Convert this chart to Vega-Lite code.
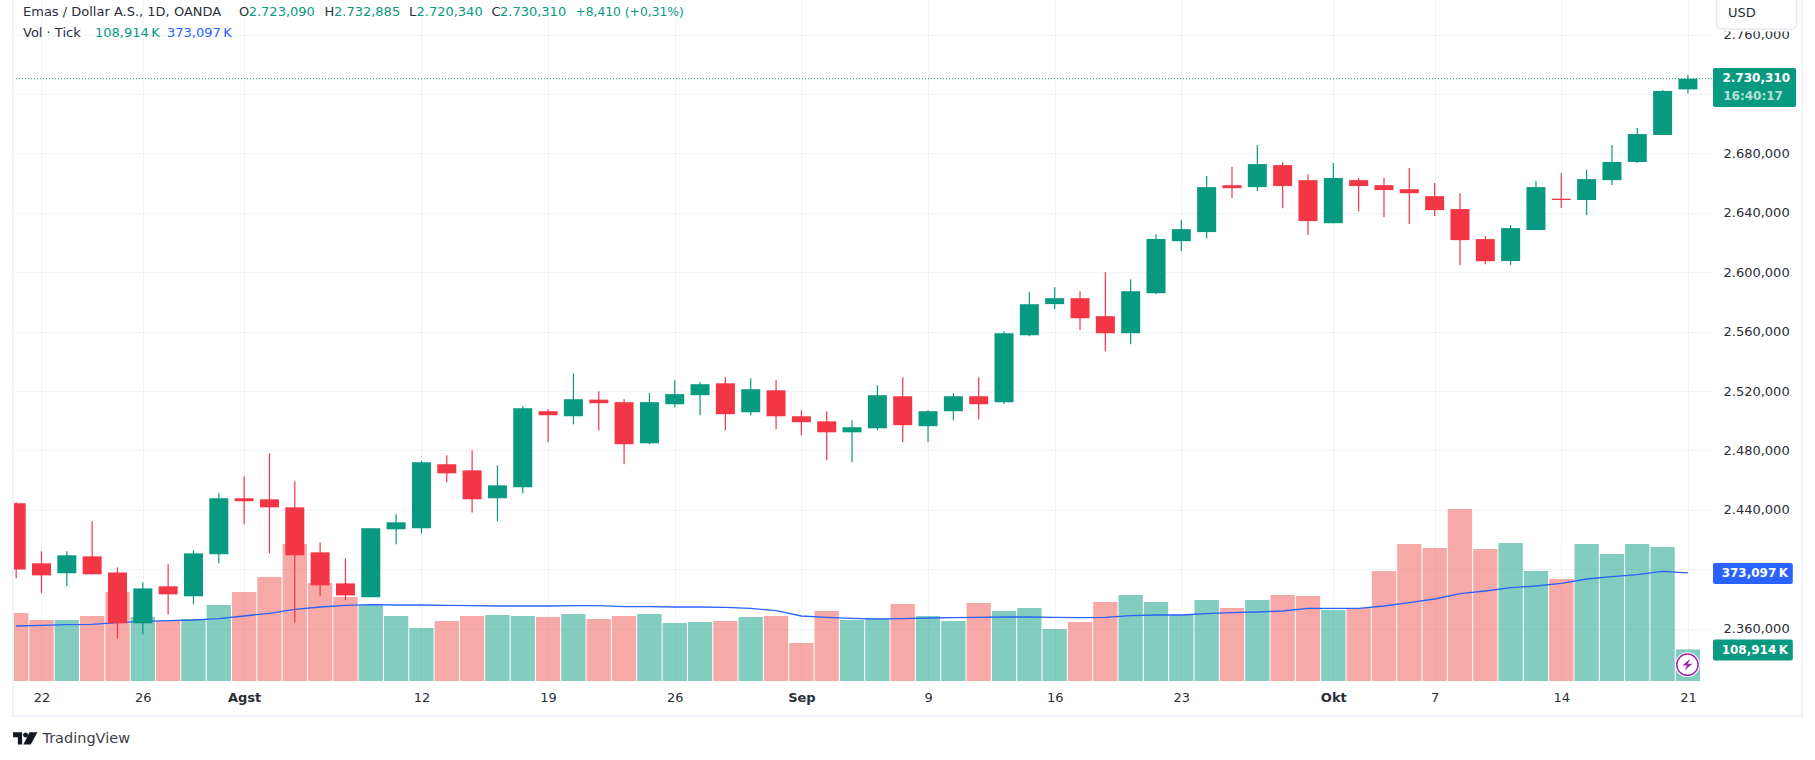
{
  "$schema": "https://vega.github.io/schema/vega-lite/v6.json",
  "width": 1699,
  "height": 681,
  "autosize": {"type": "none"},
  "padding": {"left": 13, "top": 0, "right": 103, "bottom": 79},
  "background": "#ffffff",
  "config": {
    "view": {"stroke": null},
    "font": "DejaVu Sans",
    "text": {"fontSize": 13, "baseline": "middle"}
  },
  "data": {"values": [
    {"i": -1, "dir": "down", "open": 2444.4, "high": 2445.1, "low": 2393.9, "close": 2399.9, "vol": 234.6, "ma": 189.8},
    {"i": 0, "dir": "down", "open": 2404.0, "high": 2412.1, "low": 2383.8, "close": 2395.9, "vol": 210.5, "ma": 192},
    {"i": 1, "dir": "up", "open": 2397.3, "high": 2412.1, "low": 2388.5, "close": 2409.4, "vol": 210.5, "ma": 194.4},
    {"i": 2, "dir": "down", "open": 2408.7, "high": 2432.3, "low": 2396.6, "close": 2396.6, "vol": 224.3, "ma": 195.5},
    {"i": 3, "dir": "down", "open": 2397.9, "high": 2401.3, "low": 2353.5, "close": 2363.6, "vol": 307, "ma": 201.3},
    {"i": 4, "dir": "up", "open": 2363.6, "high": 2391.2, "low": 2356.2, "close": 2387.1, "vol": 220.8, "ma": 205.9},
    {"i": 5, "dir": "down", "open": 2388.5, "high": 2403.3, "low": 2369.6, "close": 2383.1, "vol": 207, "ma": 208.2},
    {"i": 6, "dir": "up", "open": 2381.8, "high": 2412.7, "low": 2376.4, "close": 2410.7, "vol": 213.9, "ma": 210.5},
    {"i": 7, "dir": "up", "open": 2410.1, "high": 2451.1, "low": 2404.0, "close": 2447.8, "vol": 262.2, "ma": 215},
    {"i": 8, "dir": "down", "open": 2447.8, "high": 2462.6, "low": 2430.3, "close": 2445.8, "vol": 307, "ma": 224.3},
    {"i": 9, "dir": "down", "open": 2447.1, "high": 2478.1, "low": 2410.7, "close": 2441.7, "vol": 358.8, "ma": 233.5},
    {"i": 10, "dir": "down", "open": 2441.7, "high": 2459.2, "low": 2364.2, "close": 2409.4, "vol": 472.7, "ma": 247.3},
    {"i": 11, "dir": "down", "open": 2411.4, "high": 2418.1, "low": 2381.8, "close": 2389.2, "vol": 338.1, "ma": 255.3},
    {"i": 12, "dir": "down", "open": 2390.5, "high": 2407.4, "low": 2379.1, "close": 2382.4, "vol": 289.8, "ma": 261},
    {"i": 13, "dir": "up", "open": 2381.1, "high": 2427.6, "low": 2381.1, "close": 2427.6, "vol": 262.2, "ma": 263.4},
    {"i": 14, "dir": "up", "open": 2426.9, "high": 2437.0, "low": 2416.8, "close": 2431.6, "vol": 224.3, "ma": 262.2},
    {"i": 15, "dir": "up", "open": 2427.6, "high": 2473.2, "low": 2424.2, "close": 2472.0, "vol": 182.9, "ma": 262.2},
    {"i": 16, "dir": "down", "open": 2470.7, "high": 2476.7, "low": 2458.6, "close": 2464.6, "vol": 207, "ma": 261},
    {"i": 17, "dir": "down", "open": 2466.6, "high": 2480.1, "low": 2438.3, "close": 2447.1, "vol": 224.3, "ma": 259.9},
    {"i": 18, "dir": "up", "open": 2447.8, "high": 2470.0, "low": 2432.3, "close": 2456.5, "vol": 227.7, "ma": 258.8},
    {"i": 19, "dir": "up", "open": 2455.2, "high": 2509.8, "low": 2451.1, "close": 2508.4, "vol": 224.3, "ma": 258.8},
    {"i": 20, "dir": "down", "open": 2506.4, "high": 2507.7, "low": 2485.5, "close": 2503.7, "vol": 220.8, "ma": 258.8},
    {"i": 21, "dir": "up", "open": 2503.0, "high": 2531.8, "low": 2497.6, "close": 2514.5, "vol": 231.2, "ma": 259.9},
    {"i": 22, "dir": "down", "open": 2514.2, "high": 2519.9, "low": 2493.6, "close": 2511.8, "vol": 213.9, "ma": 259.9},
    {"i": 23, "dir": "down", "open": 2512.5, "high": 2514.5, "low": 2470.7, "close": 2484.2, "vol": 224.3, "ma": 256.5},
    {"i": 24, "dir": "up", "open": 2484.8, "high": 2518.7, "low": 2484.2, "close": 2512.5, "vol": 231.2, "ma": 256.5},
    {"i": 25, "dir": "up", "open": 2511.1, "high": 2527.3, "low": 2509.1, "close": 2517.9, "vol": 200.1, "ma": 255.3},
    {"i": 26, "dir": "up", "open": 2517.2, "high": 2525.9, "low": 2503.7, "close": 2524.6, "vol": 203.6, "ma": 255.3},
    {"i": 27, "dir": "down", "open": 2525.2, "high": 2529.3, "low": 2493.6, "close": 2504.4, "vol": 207, "ma": 254.2},
    {"i": 28, "dir": "up", "open": 2505.7, "high": 2528.6, "low": 2503.7, "close": 2521.2, "vol": 220.8, "ma": 250.7},
    {"i": 29, "dir": "down", "open": 2520.5, "high": 2527.3, "low": 2494.3, "close": 2503.0, "vol": 224.3, "ma": 242.7},
    {"i": 30, "dir": "down", "open": 2503.0, "high": 2507.1, "low": 2490.2, "close": 2499.0, "vol": 131.1, "ma": 224.3},
    {"i": 31, "dir": "down", "open": 2499.6, "high": 2506.4, "low": 2473.4, "close": 2492.2, "vol": 241.5, "ma": 219.7},
    {"i": 32, "dir": "up", "open": 2492.2, "high": 2500.3, "low": 2472.0, "close": 2495.6, "vol": 210.5, "ma": 216.2},
    {"i": 33, "dir": "up", "open": 2494.9, "high": 2523.9, "low": 2493.6, "close": 2517.2, "vol": 213.9, "ma": 213.9},
    {"i": 34, "dir": "down", "open": 2516.5, "high": 2529.3, "low": 2485.5, "close": 2497.0, "vol": 265.7, "ma": 215},
    {"i": 35, "dir": "up", "open": 2496.3, "high": 2507.1, "low": 2485.5, "close": 2506.4, "vol": 224.3, "ma": 217.4},
    {"i": 36, "dir": "up", "open": 2506.4, "high": 2518.5, "low": 2500.3, "close": 2516.5, "vol": 207, "ma": 218.5},
    {"i": 37, "dir": "down", "open": 2516.5, "high": 2529.3, "low": 2501.0, "close": 2511.1, "vol": 269.1, "ma": 219.7},
    {"i": 38, "dir": "up", "open": 2512.4, "high": 2560.3, "low": 2511.1, "close": 2558.9, "vol": 241.5, "ma": 220.8},
    {"i": 39, "dir": "up", "open": 2557.6, "high": 2586.6, "low": 2556.9, "close": 2578.5, "vol": 251.9, "ma": 220.8},
    {"i": 40, "dir": "up", "open": 2578.5, "high": 2589.9, "low": 2575.1, "close": 2582.5, "vol": 179.4, "ma": 219.7},
    {"i": 41, "dir": "down", "open": 2582.5, "high": 2587.2, "low": 2561.0, "close": 2569.0, "vol": 203.6, "ma": 218.5},
    {"i": 42, "dir": "down", "open": 2570.4, "high": 2600.0, "low": 2546.8, "close": 2558.9, "vol": 272.6, "ma": 219.7},
    {"i": 43, "dir": "up", "open": 2558.9, "high": 2595.3, "low": 2551.5, "close": 2587.2, "vol": 296.7, "ma": 225.4},
    {"i": 44, "dir": "up", "open": 2585.9, "high": 2625.6, "low": 2585.2, "close": 2622.3, "vol": 272.6, "ma": 227.7},
    {"i": 45, "dir": "up", "open": 2620.9, "high": 2635.1, "low": 2614.2, "close": 2629.0, "vol": 227.7, "ma": 227.7},
    {"i": 46, "dir": "up", "open": 2627.0, "high": 2664.7, "low": 2622.9, "close": 2657.3, "vol": 279.5, "ma": 232.3},
    {"i": 47, "dir": "down", "open": 2658.6, "high": 2670.8, "low": 2649.9, "close": 2656.6, "vol": 251.9, "ma": 235.8},
    {"i": 48, "dir": "up", "open": 2657.3, "high": 2685.6, "low": 2654.6, "close": 2672.8, "vol": 279.5, "ma": 238},
    {"i": 49, "dir": "down", "open": 2672.1, "high": 2674.1, "low": 2643.1, "close": 2658.0, "vol": 296.7, "ma": 241.5},
    {"i": 50, "dir": "down", "open": 2662.0, "high": 2666.0, "low": 2625.0, "close": 2634.4, "vol": 293.3, "ma": 250.7},
    {"i": 51, "dir": "up", "open": 2633.0, "high": 2673.5, "low": 2633.0, "close": 2663.4, "vol": 245, "ma": 250.7},
    {"i": 52, "dir": "down", "open": 2662.0, "high": 2663.4, "low": 2641.1, "close": 2658.0, "vol": 251.9, "ma": 250.7},
    {"i": 53, "dir": "down", "open": 2658.6, "high": 2663.4, "low": 2637.1, "close": 2655.3, "vol": 379.5, "ma": 258.8},
    {"i": 54, "dir": "down", "open": 2655.9, "high": 2670.1, "low": 2632.4, "close": 2653.2, "vol": 472.7, "ma": 270.3},
    {"i": 55, "dir": "down", "open": 2651.2, "high": 2660.0, "low": 2637.8, "close": 2641.8, "vol": 458.9, "ma": 282.9},
    {"i": 56, "dir": "down", "open": 2642.5, "high": 2653.2, "low": 2604.7, "close": 2621.6, "vol": 593.4, "ma": 301.3},
    {"i": 57, "dir": "down", "open": 2622.3, "high": 2624.3, "low": 2605.4, "close": 2607.4, "vol": 455.4, "ma": 310.5},
    {"i": 58, "dir": "up", "open": 2607.5, "high": 2631.7, "low": 2604.8, "close": 2629.7, "vol": 476.1, "ma": 322},
    {"i": 59, "dir": "up", "open": 2628.4, "high": 2661.4, "low": 2628.4, "close": 2657.3, "vol": 379.5, "ma": 327.8},
    {"i": 60, "dir": "down", "open": 2649.5, "high": 2666.8, "low": 2643.2, "close": 2648.6, "vol": 351.9, "ma": 337},
    {"i": 61, "dir": "up", "open": 2648.6, "high": 2668.8, "low": 2638.5, "close": 2662.7, "vol": 472.7, "ma": 351.9},
    {"i": 62, "dir": "up", "open": 2662.0, "high": 2685.6, "low": 2658.7, "close": 2674.2, "vol": 438.2, "ma": 360},
    {"i": 63, "dir": "up", "open": 2674.2, "high": 2697.1, "low": 2673.5, "close": 2693.0, "vol": 472.7, "ma": 366.9},
    {"i": 64, "dir": "up", "open": 2692.4, "high": 2722.7, "low": 2692.4, "close": 2722.0, "vol": 462.3, "ma": 378.4},
    {"i": 65, "dir": "up", "open": 2723.09, "high": 2732.885, "low": 2720.34, "close": 2730.31, "vol": 108.914, "ma": 373.097}
  ]},
  "encoding": {
    "x": {
      "field": "i",
      "type": "quantitative",
      "scale": {"domain": [-1.125, 65.95], "nice": false, "zero": false, "padding": 0},
      "axis": {
        "title": null,
        "values": [0, 4, 8, 15, 20, 25, 30, 35, 40, 45, 51, 55, 60, 65],
        "labelExpr": "datum.value==0?'22':datum.value==4?'26':datum.value==8?'Agst':datum.value==15?'12':datum.value==20?'19':datum.value==25?'26':datum.value==30?'Sep':datum.value==35?'9':datum.value==40?'16':datum.value==45?'23':datum.value==51?'Okt':datum.value==55?'7':datum.value==60?'14':'21'",
        "labelFontWeight": {"condition": {"test": "datum.value==8||datum.value==30||datum.value==51", "value": "bold"}, "value": "normal"},
        "labelFontSize": 13,
        "labelColor": "#2a2e39",
        "labelPadding": 10,
        "labelFlush": false,
        "labelOverlap": false,
        "domain": false,
        "ticks": false,
        "grid": true,
        "gridColor": "#f0f3fa"
      }
    }
  },
  "layer": [
    {
      "encoding": {
        "y": {
          "field": "vol",
          "type": "quantitative",
          "scale": {"domain": [0, 2349.5], "nice": false},
          "axis": {"title": null, "labels": false, "domain": false, "ticks": false, "grid": false, "orient": "left"}
        }
      },
      "layer": [
        {
          "mark": {"type": "bar", "orient": "vertical", "size": 24.3, "opacity": 0.5, "clip": true},
          "encoding": {
            "color": {"condition": {"test": "datum.dir=='up'", "value": "#089981"}, "value": "#ef5350"}
          }
        },
        {
          "mark": {"type": "line", "color": "#2962ff", "strokeWidth": 1.3, "clip": true},
          "encoding": {"y": {"field": "ma", "type": "quantitative"}}
        }
      ]
    },
    {
      "encoding": {
        "y": {
          "field": "low",
          "type": "quantitative",
          "scale": {"domain": [2324.77, 2783.27], "nice": false, "zero": false},
          "axis": {
            "title": null,
            "orient": "right",
            "values": [2360, 2400, 2440, 2480, 2520, 2560, 2600, 2640, 2680, 2720, 2760],
            "labelExpr": "'2.' + replace(slice(format(datum.value, '.3f'), 1), '.', ',')",
            "labelFontSize": 13,
            "labelColor": "#2a2e39",
            "labelPadding": 11,
            "domain": false,
            "ticks": false,
            "grid": true,
            "gridColor": "#f0f3fa"
          }
        }
      },
      "layer": [
        {
          "mark": {"type": "rule", "strokeWidth": 1.2, "clip": true},
          "encoding": {
            "y2": {"field": "high"},
            "color": {"condition": {"test": "datum.dir=='up'", "value": "#089981"}, "value": "#f23645"}
          }
        },
        {
          "mark": {"type": "bar", "size": 19, "clip": true},
          "encoding": {
            "y": {"field": "open", "type": "quantitative"},
            "y2": {"field": "close"},
            "color": {"condition": {"test": "datum.dir=='up'", "value": "#089981"}, "value": "#f23645"}
          }
        },
        {
          "data": {"values": [{"from": -1.125, "to": 65.95, "last": 2730.31}]},
          "mark": {"type": "rule", "color": "#089981", "strokeWidth": 1, "strokeDash": [1, 2]},
          "encoding": {
            "x": {"field": "from", "type": "quantitative"},
            "x2": {"field": "to"},
            "y": {"field": "last", "type": "quantitative"}
          }
        },
        {
          "data": {"values": [{"from": -1.125, "to": 69.5, "top": 2784.62, "bottom": 2301.25}]},
          "mark": {"type": "rect", "fill": "transparent", "stroke": "#f0f3fa", "strokeWidth": 2},
          "encoding": {
            "x": {"field": "from", "type": "quantitative"}, "x2": {"field": "to"},
            "y": {"field": "top", "type": "quantitative"}, "y2": {"field": "bottom"}
          }
        },
        {
          "data": {"values": [{"from": 66.0, "to": 69.4, "top": 2775, "bottom": 2762.05}]},
          "mark": {"type": "rect", "fill": "#ffffff"},
          "encoding": {
            "x": {"field": "from", "type": "quantitative"}, "x2": {"field": "to"},
            "y": {"field": "top", "type": "quantitative"}, "y2": {"field": "bottom"}
          }
        },
        {
          "data": {"values": [{"from": 66.13, "to": 69.29, "top": 2786.6, "bottom": 2763.73}]},
          "mark": {"type": "rect", "fill": "#ffffff", "stroke": "#e8eaf2", "strokeWidth": 1.5, "cornerRadius": 5},
          "encoding": {
            "x": {"field": "from", "type": "quantitative"}, "x2": {"field": "to"},
            "y": {"field": "top", "type": "quantitative"}, "y2": {"field": "bottom"}
          }
        },
        {
          "data": {"values": [
            {"from": 65.99, "to": 69.27, "top": 2737.46, "bottom": 2711.18},
            {"from": 65.99, "to": 69.14, "top": 2352.78, "bottom": 2338.63}
          ]},
          "mark": {"type": "rect", "fill": "#089981", "cornerRadius": 2},
          "encoding": {
            "x": {"field": "from", "type": "quantitative"}, "x2": {"field": "to"},
            "y": {"field": "top", "type": "quantitative"}, "y2": {"field": "bottom"}
          }
        },
        {
          "data": {"values": [{"from": 65.99, "to": 69.14, "top": 2404.18, "bottom": 2390.03}]},
          "mark": {"type": "rect", "fill": "#2962ff", "cornerRadius": 2},
          "encoding": {
            "x": {"field": "from", "type": "quantitative"}, "x2": {"field": "to"},
            "y": {"field": "top", "type": "quantitative"}, "y2": {"field": "bottom"}
          }
        },
        {
          "data": {"values": [
            {"label": "2.730,310", "at": 69.03, "level": 2730.92},
            {"label": "373,097\u2009K", "at": 68.95, "level": 2397.24},
            {"label": "108,914\u2009K", "at": 68.95, "level": 2345.71}
          ]},
          "mark": {"type": "text", "align": "right", "color": "#ffffff", "fontWeight": "bold", "fontSize": 12},
          "encoding": {
            "x": {"field": "at", "type": "quantitative"},
            "y": {"field": "level", "type": "quantitative"},
            "text": {"field": "label"}
          }
        },
        {
          "data": {"values": [{"label": "16:40:17", "at": 67.57, "level": 2718.59}]},
          "mark": {"type": "text", "align": "center", "color": "#b5e0d8", "fontWeight": "bold", "fontSize": 12},
          "encoding": {
            "x": {"field": "at", "type": "quantitative"},
            "y": {"field": "level", "type": "quantitative"},
            "text": {"field": "label"}
          }
        },
        {
          "data": {"values": [
            {"label": "Emas / Dollar A.S., 1D, OANDA", "at": -0.73, "level": 2775.19},
            {"label": "O", "at": 7.797, "level": 2775.19},
            {"label": "H", "at": 11.172, "level": 2775.19},
            {"label": "L", "at": 14.509, "level": 2775.19},
            {"label": "C", "at": 17.766, "level": 2775.19},
            {"label": "Vol · Tick", "at": -0.73, "level": 2761.04},
            {"label": "USD", "at": 66.58, "level": 2774.71}
          ]},
          "mark": {"type": "text", "align": "left", "color": "#2a2e39"},
          "encoding": {
            "x": {"field": "at", "type": "quantitative"},
            "y": {"field": "level", "type": "quantitative"},
            "text": {"field": "label"}
          }
        },
        {
          "data": {"values": [
            {"label": "2.723,090", "at": 8.18, "level": 2775.19},
            {"label": "2.732,885", "at": 11.548, "level": 2775.19},
            {"label": "2.720,340", "at": 14.805, "level": 2775.19},
            {"label": "2.730,310", "at": 18.101, "level": 2775.19},
            {"label": "108,914\u2009K", "at": 2.112, "level": 2761.04}
          ]},
          "mark": {"type": "text", "align": "left", "color": "#089981"},
          "encoding": {
            "x": {"field": "at", "type": "quantitative"},
            "y": {"field": "level", "type": "quantitative"},
            "text": {"field": "label"}
          }
        },
        {
          "data": {"values": [{"label": "+8,410 (+0,31%)", "at": 21.078, "level": 2775.19}]},
          "mark": {"type": "text", "align": "left", "color": "#089981", "fontSize": 12.3},
          "encoding": {
            "x": {"field": "at", "type": "quantitative"},
            "y": {"field": "level", "type": "quantitative"},
            "text": {"field": "label"}
          }
        },
        {
          "data": {"values": [{"label": "373,097\u2009K", "at": 4.955, "level": 2761.04}]},
          "mark": {"type": "text", "align": "left", "color": "#2962ff"},
          "encoding": {
            "x": {"field": "at", "type": "quantitative"},
            "y": {"field": "level", "type": "quantitative"},
            "text": {"field": "label"}
          }
        },
        {
          "data": {"values": [{"at": 64.98, "level": 2335.74}]},
          "mark": {"type": "point", "shape": "circle", "size": 616, "filled": true, "color": "#ffffff", "opacity": 1},
          "encoding": {"x": {"field": "at", "type": "quantitative"}, "y": {"field": "level", "type": "quantitative"}}
        },
        {
          "data": {"values": [{"at": 64.98, "level": 2335.74}]},
          "mark": {"type": "point", "shape": "circle", "size": 452, "fill": "#ffffff", "stroke": "#9c27b0", "strokeWidth": 1.5, "opacity": 1},
          "encoding": {"x": {"field": "at", "type": "quantitative"}, "y": {"field": "level", "type": "quantitative"}}
        },
        {
          "data": {"values": [{"at": 64.98, "level": 2335.74}]},
          "mark": {"type": "point", "shape": "M.35 -.7 L-.6 .1 H-.05 L-.35 .7 L.6 -.1 H.05 Z", "size": 280, "filled": true, "color": "#9c27b0", "opacity": 1},
          "encoding": {"x": {"field": "at", "type": "quantitative"}, "y": {"field": "level", "type": "quantitative"}}
        },
        {
          "data": {"values": [{"at": -0.643, "level": 2286.07}]},
          "mark": {"type": "point", "shape": "M-1 -.5 H-.25 V.5 H-.6 V-.1 H-1 Z M-.17 -.28 a.2 .2 0 1 0 .4 0 a.2 .2 0 1 0 -.4 0 Z M.35 -.5 H1 L.45 .5 H-.15 Z", "size": 600, "filled": true, "color": "#131722", "opacity": 1},
          "encoding": {"x": {"field": "at", "type": "quantitative"}, "y": {"field": "level", "type": "quantitative"}}
        },
        {
          "data": {"values": [{"label": "TradingView", "at": 0.036, "level": 2285.87}]},
          "mark": {"type": "text", "align": "left", "color": "#3a3e49", "fontSize": 14.5},
          "encoding": {
            "x": {"field": "at", "type": "quantitative"},
            "y": {"field": "level", "type": "quantitative"},
            "text": {"field": "label"}
          }
        }
      ]
    }
  ],
  "resolve": {"scale": {"y": "independent"}}
}
